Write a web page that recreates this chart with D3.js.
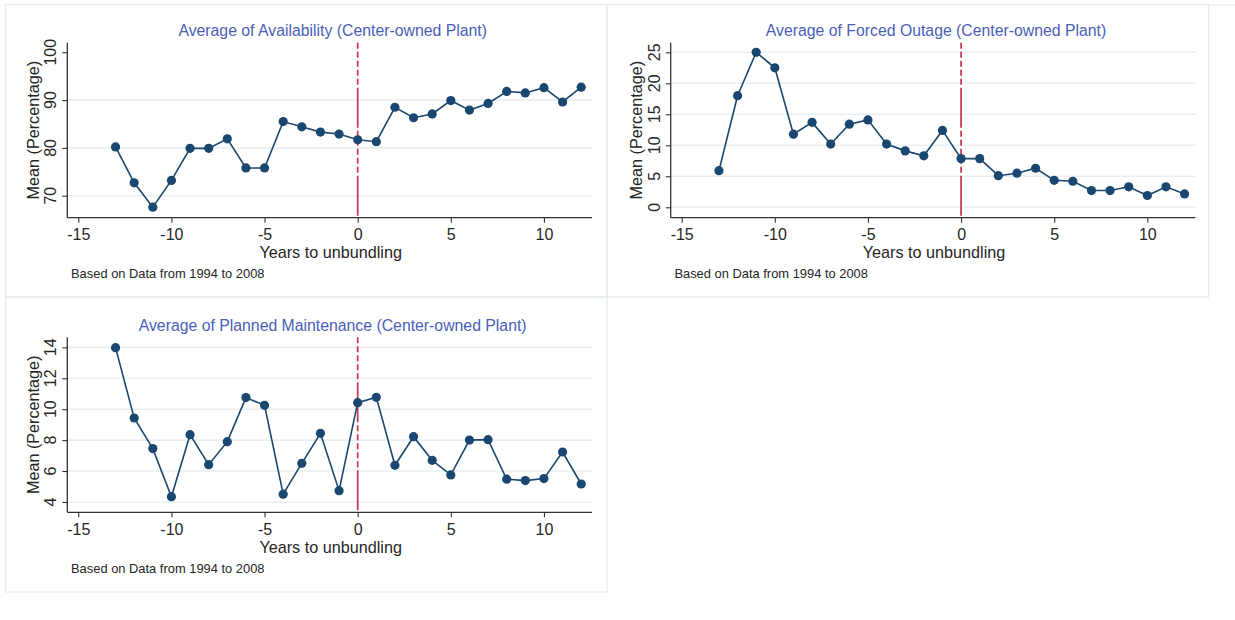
<!DOCTYPE html>
<html><head><meta charset="utf-8">
<script src="https://cdn.jsdelivr.net/npm/d3@7"></script>
<style>
html,body{margin:0;padding:0;background:#fff;}
svg{display:block;font-family:"Liberation Sans",Arial,sans-serif;}
</style></head>
<body><svg id="c" width="1235" height="620"></svg>
<script>
const years = [-13,-12,-11,-10,-9,-8,-7,-6,-5,-4,-3,-2,-1,0,1,2,3,4,5,6,7,8,9,10,11,12];
const availability = [80.2,72.7,67.6,73.2,79.9,79.9,81.9,75.8,75.8,85.5,84.4,83.3,82.9,81.7,81.3,88.5,86.3,87.1,89.9,87.9,89.3,91.8,91.5,92.6,89.6,92.7];
const forcedOutage = [5.9,18.0,25.0,22.5,11.8,13.7,10.2,13.4,14.1,10.2,9.1,8.3,12.4,7.85,7.85,5.1,5.5,6.3,4.35,4.2,2.7,2.7,3.3,1.9,3.3,2.15];
const plannedMaintenance = [13.98,9.43,7.45,4.34,8.35,6.41,7.9,10.75,10.25,4.5,6.5,8.44,4.73,10.42,10.77,6.37,8.22,6.69,5.75,8.0,8.03,5.47,5.38,5.51,7.23,5.16];
const xTicks = [-15,-10,-5,0,5,10];
const availTicks = [70,80,90,100];
const forcedTicks = [0,5,10,15,20,25];
const plannedTicks = [4,6,8,10,12,14];
const titles = ["Average of Availability (Center-owned Plant)","Average of Forced Outage (Center-owned Plant)","Average of Planned Maintenance (Center-owned Plant)"];
const xLabel = "Years to unbundling";
const yLabel = "Mean (Percentage)";
const note = "Based on Data from 1994 to 2008";

const svg = d3.select("#c");
const BORDER = "#e4ecf0";

// panel frames
[[5.5,4.5],[607,4.5],[5.5,297]].forEach(([x,y])=>{
  svg.append("rect").attr("x",x).attr("y",y).attr("width",601.5).attr("height",y>100?295:292.5)
    .attr("fill","none").attr("stroke",BORDER).attr("stroke-width",1.2);
});
svg.append("line").attr("x1",1210).attr("x2",1235).attr("y1",5).attr("y2",5).attr("stroke",BORDER).attr("stroke-width",1.2);

const panels = [
  {ox:0, oy:0, data:availability, ticks:availTicks, ydom:[65.4,102.0], gridSkip:[100], title:titles[0]},
  {ox:603.4, oy:0, data:forcedOutage, ticks:forcedTicks, ydom:[-1.68,26.55], gridSkip:[], title:titles[1]},
  {ox:0, oy:294.6, data:plannedMaintenance, ticks:plannedTicks, ydom:[3.33,14.65], gridSkip:[], title:titles[2]}
];

const L = 67.3, R = 592, T = 42.7, B = 217.7;
const INK = "#262626";

panels.forEach(p=>{
  const g = svg.append("g").attr("transform",`translate(${p.ox},${p.oy})`);
  const x = d3.scaleLinear().domain([-15.59,12.58]).range([L,R]);
  const y = d3.scaleLinear().domain(p.ydom).range([B,T]);

  // grid
  g.selectAll("line.grid").data(p.ticks.filter(t=>!p.gridSkip.includes(t))).enter().append("line")
    .attr("x1",L).attr("x2",R).attr("y1",d=>y(d)).attr("y2",d=>y(d))
    .attr("stroke","#e8eff4").attr("stroke-width",1.6);

  // x axis
  const xa = g.append("g").attr("transform",`translate(0,${B})`)
    .call(d3.axisBottom(x).tickValues(xTicks).tickSize(5).tickSizeOuter(0).tickPadding(6).tickFormat(d3.format("d")));
  xa.select(".domain").attr("stroke","#333").attr("stroke-width",1.3).attr("d",`M${L},0H${R}`);
  xa.selectAll(".tick line").attr("stroke","#333").attr("stroke-width",1.1);
  xa.selectAll(".tick text").attr("font-size",16).attr("fill",INK).attr("font-family","Liberation Sans, Arial, sans-serif")
    .text(d=> d<0 ? "-"+Math.abs(d) : d);

  // y axis
  const ya = g.append("g").attr("transform",`translate(${L},0)`)
    .call(d3.axisLeft(y).tickValues(p.ticks).tickSize(5).tickSizeOuter(0).tickFormat(d3.format("d")));
  ya.select(".domain").attr("stroke","#333").attr("stroke-width",1.3).attr("d",`M0,${T}V${B}`);
  ya.selectAll(".tick line").attr("stroke","#333").attr("stroke-width",1.1);
  ya.selectAll(".tick text").remove();
  p.ticks.forEach(t=>{
    g.append("text").attr("transform",`translate(${L-11},${y(t)}) rotate(-90)`)
      .attr("text-anchor","middle").attr("font-size",16).attr("fill",INK).text(t);
  });

  // reference line at 0
  g.append("line").attr("x1",x(0)).attr("x2",x(0)).attr("y1",T).attr("y2",B)
    .attr("stroke","#c8324b").attr("stroke-width",1.7)
    .attr("stroke-dasharray","6,3,6,3,6,3,6,3,6,3,40,3");

  // series line
  const pts = years.map((yr,i)=>[yr,p.data[i]]);
  g.append("path").datum(pts)
    .attr("d",d3.line().x(d=>x(d[0])).y(d=>y(d[1])))
    .attr("fill","none").attr("stroke","#1a476f").attr("stroke-width",1.6);
  g.selectAll("circle.pt").data(pts).enter().append("circle")
    .attr("cx",d=>x(d[0])).attr("cy",d=>y(d[1])).attr("r",4.6).attr("fill","#1a476f");

  // titles
  g.append("text").attr("x",(L+R)/2+3).attr("y",36).attr("text-anchor","middle")
    .attr("font-size",15.8).attr("fill","#4a5eb8").text(p.title);
  g.append("text").attr("x",(L+R)/2+1).attr("y",258).attr("text-anchor","middle")
    .attr("font-size",16.2).attr("fill",INK).text(xLabel);
  g.append("text").attr("transform",`translate(38.5,${(T+B)/2}) rotate(-90)`).attr("text-anchor","middle")
    .attr("font-size",16.2).attr("fill",INK).text(yLabel);
  g.append("text").attr("x",71).attr("y",278).attr("font-size",12.9).attr("fill",INK).text(note);
});
</script></body></html>
